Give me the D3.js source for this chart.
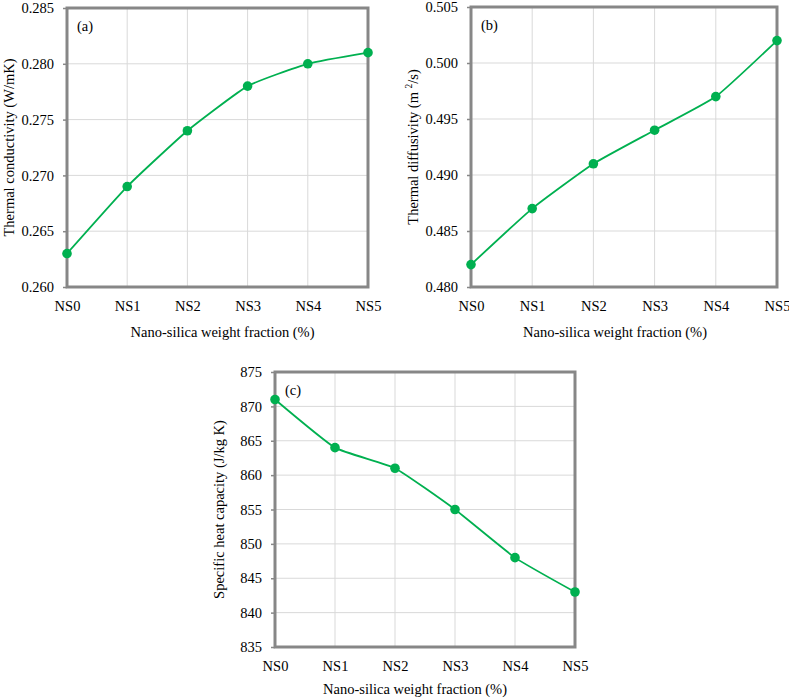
<!DOCTYPE html>
<html>
<head>
<meta charset="utf-8">
<script src="https://cdn.jsdelivr.net/npm/d3@7"></script>
<style>
  html, body { margin: 0; padding: 0; background: #fff; }
  svg, svg text { font-family: "Liberation Serif", "Times New Roman", serif !important; }
  svg { display: block; }
</style>
</head>
<body>
<svg id="chart" width="789" height="700"></svg>
<script>
const categories = ["NS0", "NS1", "NS2", "NS3", "NS4", "NS5"];

const conductivity = [0.263, 0.269, 0.274, 0.278, 0.280, 0.281];
const conductivityTicks = [0.260, 0.265, 0.270, 0.275, 0.280, 0.285];

const diffusivity = [0.482, 0.487, 0.491, 0.494, 0.497, 0.502];
const diffusivityTicks = [0.480, 0.485, 0.490, 0.495, 0.500, 0.505];

const heatCapacity = [871, 864, 861, 855, 848, 843];
const heatCapacityTicks = [835, 840, 845, 850, 855, 860, 865, 870, 875];

const xTitle = "Nano-silica weight fraction (%)";

const svg = d3.select("#chart");
const FS = 14.5;
const green = "#00b050";
const frameColor = "#878787";
const gridColor = "#d9d9d9";

function panel(cfg) {
  const g = svg.append("g");
  const x = d3.scalePoint().domain(categories).range([cfg.left, cfg.right]);
  const y = d3.scaleLinear().domain([cfg.ticks[0], cfg.ticks[cfg.ticks.length - 1]]).range([cfg.bottom, cfg.top]);

  g.append("g").selectAll("line").data(cfg.ticks).join("line")
    .attr("x1", cfg.left).attr("x2", cfg.right)
    .attr("y1", d => y(d)).attr("y2", d => y(d))
    .attr("stroke", gridColor).attr("stroke-width", 1);
  g.append("g").selectAll("line").data(categories).join("line")
    .attr("x1", d => x(d)).attr("x2", d => x(d))
    .attr("y1", cfg.top).attr("y2", cfg.bottom)
    .attr("stroke", gridColor).attr("stroke-width", 1);

  const yAxis = d3.axisLeft(y).tickValues(cfg.ticks).tickFormat(cfg.fmt).tickSize(4).tickPadding(9);
  const ya = g.append("g").attr("transform", `translate(${cfg.left},0)`).call(yAxis)
    .attr("font-family", null).attr("font-size", null);
  ya.select(".domain").remove();
  ya.selectAll(".tick line").attr("stroke", frameColor).attr("stroke-width", 1.5);
  ya.selectAll(".tick text").attr("font-size", FS).attr("fill", "#000");

  const xAxis = d3.axisBottom(x).tickSize(0).tickPadding(14);
  const xa = g.append("g").attr("transform", `translate(0,${cfg.bottom})`).call(xAxis)
    .attr("font-family", null).attr("font-size", null);
  xa.select(".domain").remove();
  xa.selectAll(".tick text").attr("font-size", FS).attr("fill", "#000");

  g.append("rect")
    .attr("x", cfg.left).attr("y", cfg.top)
    .attr("width", cfg.right - cfg.left).attr("height", cfg.bottom - cfg.top)
    .attr("fill", "none").attr("stroke", frameColor).attr("stroke-width", 3);

  const line = d3.line().x((d, i) => x(categories[i])).y(d => y(d)).curve(d3.curveCardinal.tension(0.55));
  g.append("path").datum(cfg.values).attr("d", line)
    .attr("fill", "none").attr("stroke", green).attr("stroke-width", 1.8);
  g.append("g").selectAll("circle").data(cfg.values).join("circle")
    .attr("cx", (d, i) => x(categories[i])).attr("cy", d => y(d))
    .attr("r", 4.8).attr("fill", green);

  g.append("text").attr("x", cfg.left + 10).attr("y", cfg.top + 23)
    .attr("font-size", FS).text(cfg.label);

  g.append("text").attr("x", (cfg.left + cfg.right) / 2 + cfg.xtOffset).attr("y", cfg.bottom + cfg.xtDy)
    .attr("text-anchor", "middle").attr("font-size", FS).text(xTitle);
  const ty = g.append("text")
    .attr("transform", `translate(${cfg.ytX},${(cfg.top + cfg.bottom) / 2}) rotate(-90)`)
    .attr("text-anchor", "middle").attr("font-size", FS);
  if (cfg.ytParts) {
    cfg.ytParts.forEach(p => {
      const ts = ty.append("tspan").text(p.t);
      if (p.sup) ts.attr("font-size", FS * 0.65).attr("dy", -6);
      if (p.down) ts.attr("dy", 6);
    });
  } else {
    ty.text(cfg.yTitle);
  }
}

panel({
  left: 67, right: 368, top: 8, bottom: 287,
  values: conductivity, ticks: conductivityTicks, fmt: d3.format(".3f"),
  label: "(a)", yTitle: "Thermal conductivity (W/mK)", ytX: 14, xtOffset: 5, xtDy: 50
});

panel({
  left: 471, right: 777, top: 7, bottom: 287,
  values: diffusivity, ticks: diffusivityTicks, fmt: d3.format(".3f"),
  label: "(b)", ytX: 418, xtOffset: -9, xtDy: 50,
  ytParts: [{t: "Thermal diffusivity (m "}, {t: "2", sup: true}, {t: "/s)", down: true}]
});

panel({
  left: 275, right: 575, top: 372, bottom: 647,
  values: heatCapacity, ticks: heatCapacityTicks, fmt: d3.format("d"),
  label: "(c)", yTitle: "Specific heat capacity (J/kg K)", ytX: 224, xtOffset: -10, xtDy: 47
});
</script>
</body>
</html>
